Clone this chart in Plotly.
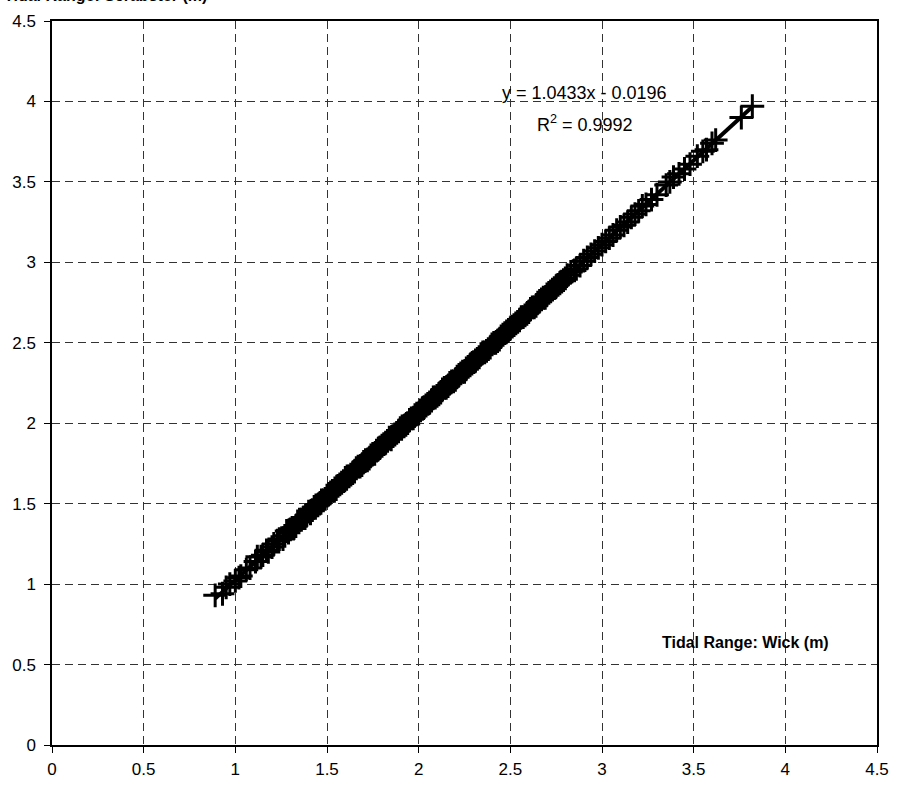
import numpy as np
import plotly.graph_objects as go

# Tidal range data (m): Wick (x) vs the other port (y)
wick_x = [0.89, 0.93, 0.95, 0.97, 1.00, 1.02, 1.03, 1.06, 1.08, 1.11, 1.12, 1.14, 1.15, 1.17,
          1.18, 1.20, 1.21, 1.23, 1.24, 1.26, 1.27, 1.28, 1.29, 1.30,
          1.31, 1.32, 1.33, 1.34, 1.35, 1.36, 1.37, 1.38, 1.39, 1.40, 1.41, 1.42, 1.43, 1.44,
          1.45, 1.46, 1.47, 1.48, 1.49, 1.50, 1.51, 1.52, 1.53, 1.54, 1.55, 1.56, 1.57, 1.58,
          1.59, 1.60, 1.61, 1.62, 1.63, 1.64, 1.65, 1.66, 1.67, 1.68, 1.69, 1.70, 1.71, 1.72,
          1.73, 1.74, 1.75, 1.76, 1.77, 1.78, 1.79, 1.80, 1.81, 1.82, 1.83, 1.84, 1.85, 1.86,
          1.87, 1.88, 1.89, 1.90, 1.91, 1.92, 1.93, 1.94, 1.95, 1.96, 1.97, 1.98, 1.99, 2.00,
          2.01, 2.02, 2.03, 2.04, 2.05, 2.06, 2.07, 2.08, 2.09, 2.10, 2.11, 2.12, 2.13, 2.14,
          2.15, 2.16, 2.17, 2.18, 2.19, 2.20, 2.21, 2.22, 2.23, 2.24, 2.25, 2.26, 2.27, 2.28,
          2.29, 2.30, 2.31, 2.32, 2.33, 2.34, 2.35, 2.36, 2.37, 2.38, 2.39, 2.40, 2.41, 2.42,
          2.43, 2.44, 2.45, 2.46, 2.47, 2.48, 2.49, 2.50, 2.51, 2.52, 2.53, 2.54, 2.55, 2.56,
          2.57, 2.58, 2.59, 2.60, 2.61, 2.62, 2.63, 2.64, 2.65, 2.66, 2.67, 2.68, 2.69, 2.70,
          2.71, 2.72, 2.73, 2.74, 2.75, 2.76, 2.77, 2.78, 2.79, 2.80, 2.81, 2.83, 2.85, 2.86,
          2.88, 2.90, 2.92, 2.94, 2.96, 2.98, 3.00, 3.02, 3.04, 3.06, 3.08, 3.10, 3.12, 3.14,
          3.16, 3.18, 3.20, 3.22, 3.24, 3.27, 3.30, 3.35, 3.37, 3.39, 3.42, 3.45, 3.48, 3.52,
          3.55, 3.57, 3.60, 3.62, 3.76, 3.82]
other_y = [0.93, 0.94, 0.98, 1.00, 1.02, 1.04, 1.05, 1.09, 1.10, 1.14, 1.17, 1.17, 1.18, 1.21,
           1.20, 1.23, 1.25, 1.27, 1.28, 1.28, 1.30, 1.33, 1.32, 1.34,
           1.35, 1.35, 1.36, 1.39, 1.40, 1.40, 1.41, 1.41, 1.43, 1.45, 1.44, 1.46, 1.48, 1.49,
           1.49, 1.50, 1.52, 1.52, 1.53, 1.55, 1.56, 1.57, 1.58, 1.58, 1.59, 1.61, 1.62, 1.63,
           1.64, 1.66, 1.67, 1.67, 1.68, 1.69, 1.70, 1.72, 1.73, 1.73, 1.74, 1.76, 1.77, 1.77,
           1.78, 1.80, 1.81, 1.81, 1.83, 1.84, 1.85, 1.86, 1.87, 1.88, 1.89, 1.91, 1.90, 1.92,
           1.93, 1.94, 1.95, 1.97, 1.98, 1.98, 1.99, 2.00, 2.02, 2.03, 2.03, 2.05, 2.06, 2.06,
           2.08, 2.09, 2.10, 2.11, 2.12, 2.13, 2.14, 2.16, 2.16, 2.17, 2.18, 2.19, 2.21, 2.22,
           2.22, 2.23, 2.25, 2.26, 2.26, 2.27, 2.29, 2.30, 2.31, 2.32, 2.32, 2.34, 2.35, 2.36,
           2.37, 2.38, 2.39, 2.40, 2.41, 2.43, 2.44, 2.44, 2.45, 2.46, 2.47, 2.49, 2.50, 2.50,
           2.51, 2.52, 2.54, 2.55, 2.56, 2.57, 2.58, 2.59, 2.60, 2.61, 2.62, 2.63, 2.64, 2.66,
           2.66, 2.67, 2.68, 2.69, 2.71, 2.72, 2.72, 2.73, 2.75, 2.76, 2.77, 2.78, 2.78, 2.80,
           2.81, 2.82, 2.83, 2.84, 2.85, 2.86, 2.87, 2.88, 2.89, 2.90, 2.92, 2.94, 2.95, 2.96,
           2.98, 3.01, 3.03, 3.05, 3.07, 3.09, 3.11, 3.13, 3.15, 3.17, 3.20, 3.22, 3.23, 3.25,
           3.28, 3.30, 3.32, 3.35, 3.36, 3.39, 3.42, 3.48, 3.50, 3.53, 3.55, 3.58, 3.61, 3.66,
           3.69, 3.70, 3.74, 3.76, 3.90, 3.97]

tick_vals = [0, 0.5, 1, 1.5, 2, 2.5, 3, 3.5, 4, 4.5]
tick_text = ["0", "0.5", "1", "1.5", "2", "2.5", "3", "3.5", "4", "4.5"]

eq_text = "y = 1.0433x - 0.0196"
r2_text = "R<sup>2</sup> = 0.9992"
x_title = "Tidal Range: Wick (m)"
y_title = "Tidal Range: Scrabster (m)"

# Linear trendline fitted to the data
coef = np.polyfit(wick_x, other_y, 1)
tx = np.array([min(wick_x), max(wick_x)])
ty = np.polyval(coef, tx)

FONT = "Liberation Sans, Arial, sans-serif"

fig = go.Figure()
fig.add_trace(go.Scatter(
    x=wick_x, y=other_y, mode="markers",
    marker=dict(symbol="cross-thin", size=17, color="black",
                line=dict(color="black", width=3)),
    showlegend=False, hoverinfo="x+y"))
fig.add_trace(go.Scatter(
    x=tx, y=ty, mode="lines", line=dict(color="black", width=4),
    showlegend=False, hoverinfo="skip"))

axis_common = dict(
    range=[0, 4.5], tickvals=tick_vals, ticktext=tick_text,
    showgrid=True, gridcolor="#333", griddash="8px,5px", gridwidth=1,
    showline=True, linecolor="black", linewidth=1.5, mirror=True,
    ticks="outside", ticklen=6, tickcolor="black", tickwidth=1,
    zeroline=False, tickfont=dict(family=FONT, size=17, color="black"),
    fixedrange=True,
)
fig.update_xaxes(**axis_common, ticklabelstandoff=2)
fig.update_yaxes(**axis_common, ticklabelstandoff=5)

fig.add_annotation(x=2.907, y=4.05, xref="x", yref="y", text=eq_text, showarrow=False,
                   font=dict(family=FONT, size=18, color="black"))
fig.add_annotation(x=2.907, y=3.866, xref="x", yref="y", text=r2_text, showarrow=False,
                   font=dict(family=FONT, size=18, color="black"))
fig.add_annotation(x=3.78, y=0.64, xref="x", yref="y", text="<b>" + x_title + "</b>",
                   showarrow=False, font=dict(family=FONT, size=16, color="black"))
fig.add_annotation(x=-0.0604, y=1.0, xref="paper", yref="paper", text="<b>" + y_title + "</b>",
                   showarrow=False, xanchor="left", yanchor="bottom", yshift=15,
                   font=dict(family=FONT, size=16, color="black"))

fig.update_layout(
    width=901, height=791,
    margin=dict(l=52, r=21, t=17, b=44),
    paper_bgcolor="white", plot_bgcolor="white",
    font=dict(family=FONT, color="black"),
)

fig.write_html("out.html", config={"displayModeBar": False})
